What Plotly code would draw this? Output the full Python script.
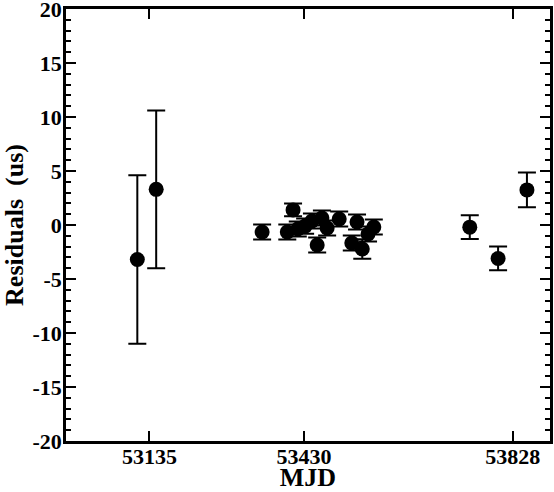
import plotly.graph_objects as go

# Data
mjd = [53112, 53148,
       53350, 53398, 53409, 53418, 53432, 53445, 53455, 53464, 53474,
       53497, 53521, 53531, 53541, 53552, 53563,
       53746, 53800, 53855]
resid = [-3.2, 3.3,
         -0.65, -0.65, 1.4, -0.37, -0.1, 0.37, -1.85, 0.65, -0.28,
         0.56, -1.67, 0.28, -2.22, -0.83, -0.19,
         -0.2, -3.1, 3.25]
err = [7.8, 7.3,
       0.7, 0.7, 0.6, 0.7, 0.7, 0.7, 0.7, 0.7, 0.7,
       0.7, 0.7, 0.7, 0.9, 0.7, 0.7,
       1.1, 1.1, 1.6]

x_ticks = [53135, 53430, 53828]
x_ticktext = ["53135", "53430", "53828"]
y_ticks = [-20, -15, -10, -5, 0, 5, 10, 15, 20]
y_ticktext = [str(v) for v in y_ticks]

FONT = "Liberation Serif"

fig = go.Figure()
fig.add_trace(go.Scatter(
    x=mjd, y=resid, mode="markers",
    marker=dict(color="black", size=15, line=dict(width=0)),
    error_y=dict(type="data", array=err, visible=True, color="black",
                 thickness=2, width=9),
    showlegend=False,
))

tickfont = dict(family=FONT, size=22, color="black", weight="bold")
titlefont = dict(family=FONT, size=26, color="black", weight="bold")

fig.update_xaxes(
    range=[52976, 53899], tickmode="array", tickvals=x_ticks, ticktext=x_ticktext,
    showline=True, linecolor="black", linewidth=2.5, mirror="ticks",
    ticks="inside", tickcolor="black", tickwidth=2, ticklen=10,
    showgrid=False, zeroline=False, automargin=False,
    tickfont=tickfont, ticklabeloverflow="allow", ticklabelstandoff=-6,
    title=dict(text="MJD", font=titlefont, standoff=0),
)
fig.update_yaxes(
    range=[-20, 20], tickmode="array", tickvals=y_ticks, ticktext=y_ticktext,
    showline=True, linecolor="black", linewidth=2.5, mirror="ticks",
    ticks="inside", tickcolor="black", tickwidth=2, ticklen=10,
    showgrid=False, zeroline=False, automargin=False,
    tickfont=tickfont, ticklabeloverflow="allow", ticklabelstandoff=-3,
    minor=dict(ticks="inside", dtick=1, ticklen=5, tickwidth=2, tickcolor="black", showgrid=False),
    title=dict(text="Residuals  (us)", font=titlefont, standoff=6),
)

fig.update_layout(
    width=554, height=492,
    margin=dict(l=66, r=4, t=9, b=51),
    plot_bgcolor="white", paper_bgcolor="white",
    font=dict(family=FONT, size=22, color="black", weight="bold"),
)

fig.write_html("out.html", config={"displayModeBar": False},
               post_script="document.body.style.margin='0';")
